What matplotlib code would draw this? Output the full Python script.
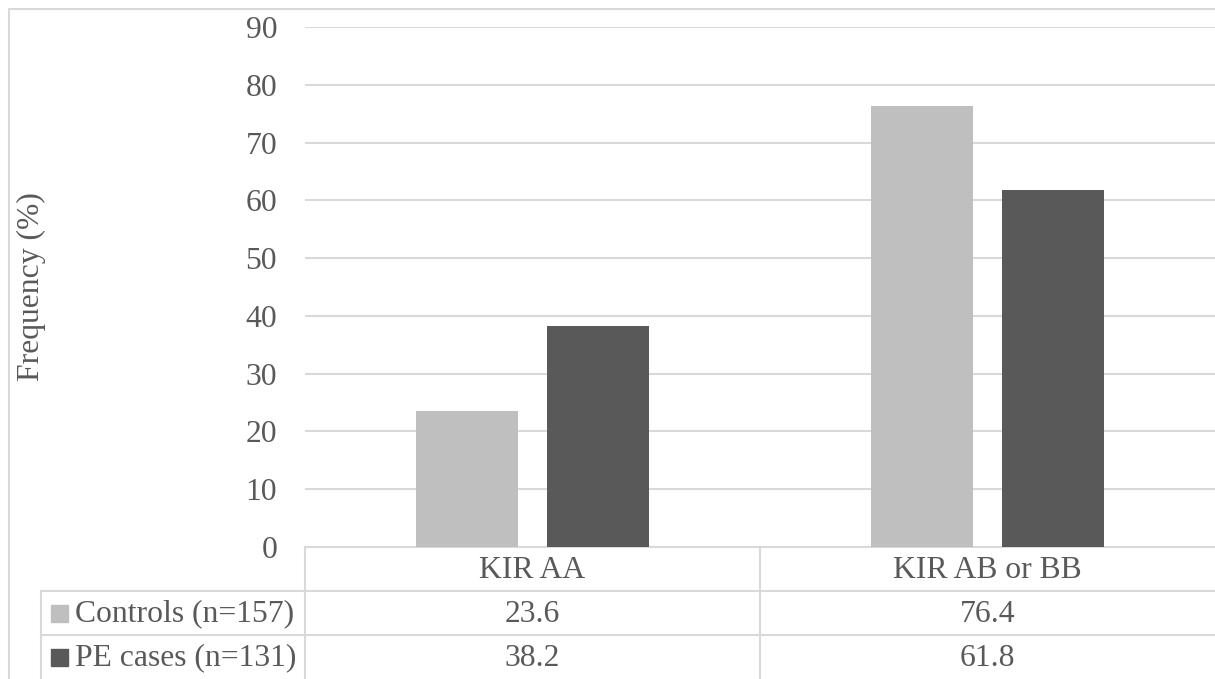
import matplotlib.pyplot as plt
from matplotlib.patches import Rectangle

# KIR genotype frequencies, controls vs PE cases
categories = ['KIR AA', 'KIR AB or BB']
series = ['Controls (n=157)', 'PE cases (n=131)']
controls = [23.6, 76.4]
pe_cases = [38.2, 61.8]
colors = ['#bfbfbf', '#595959']
yticks = [0, 10, 20, 30, 40, 50, 60, 70, 80, 90]

plt.rcParams['font.family'] = ['Liberation Serif', 'DejaVu Serif']
txt = '#595959'
grid = '#d9d9d9'
fs = 22.8

W, H = 1215, 679
fig = plt.figure(figsize=(W / 100, H / 100), dpi=100)

# overlay in pixel units for the outer frame and the data table
ov = fig.add_axes([0, 0, 1, 1])
ov.set_xlim(0, W)
ov.set_ylim(H, 0)
ov.axis('off')

left, right, y0, y90 = 305, 1215, 547, 27
ax = fig.add_axes([left / W, 1 - y0 / H, (right - left) / W, (y0 - y90) / H])
ax.set_xlim(-0.5, len(categories) - 0.5)
ax.set_ylim(0, 90)

x = list(range(len(categories)))
w, off = 0.224, 0.143
ax.bar([i - off for i in x], controls, w, color=colors[0], zorder=3)
ax.bar([i + off for i in x], pe_cases, w, color=colors[1], zorder=3)

ax.set_yticks(yticks)
ax.yaxis.grid(True, color=grid, linewidth=1.5, zorder=0)
ax.tick_params(axis='y', length=0, pad=20, labelsize=fs, labelcolor=txt)
ax.set_xticks([])
for s in ax.spines.values():
    s.set_visible(False)
ax.set_facecolor('none')

# outer chart frame (left and top edges)
ov.plot([9, 9, W], [H, 9, 9], color=grid, linewidth=1.5)

ov.text(31, 287, 'Frequency (%)', rotation=90, ha='center', va='center',
        fontsize=fs, color=txt)

# data table under the plot
col_w = (right - left) / len(categories)
rows = [547, 591, 635, H]
tl = 41
ov.plot([left, W], [rows[0], rows[0]], color=grid, linewidth=1.5)
for r in rows[1:3]:
    ov.plot([tl, W], [r, r], color=grid, linewidth=1.5)
ov.plot([tl, tl], [rows[1], H], color=grid, linewidth=1.5)
for j in range(len(categories)):
    xc = left + j * col_w
    ov.plot([xc, xc], [rows[0], H], color=grid, linewidth=1.5)
    ov.text(xc + col_w / 2, (rows[0] + rows[1]) / 2 + 1, categories[j],
            ha='center', va='center', fontsize=fs, color=txt)

for k, (name, vals) in enumerate([(series[0], controls), (series[1], pe_cases)]):
    yc = (rows[k + 1] + rows[k + 2]) / 2
    ov.add_patch(Rectangle((51, yc - 8), 17, 17, color=colors[k]))
    ov.text(75, yc + 1, name, ha='left', va='center', fontsize=fs, color=txt)
    for j, v in enumerate(vals):
        ov.text(left + j * col_w + col_w / 2, yc + 1, f'{v:.1f}',
                ha='center', va='center', fontsize=fs, color=txt)

fig.savefig('out.png', dpi=100, facecolor='white')
